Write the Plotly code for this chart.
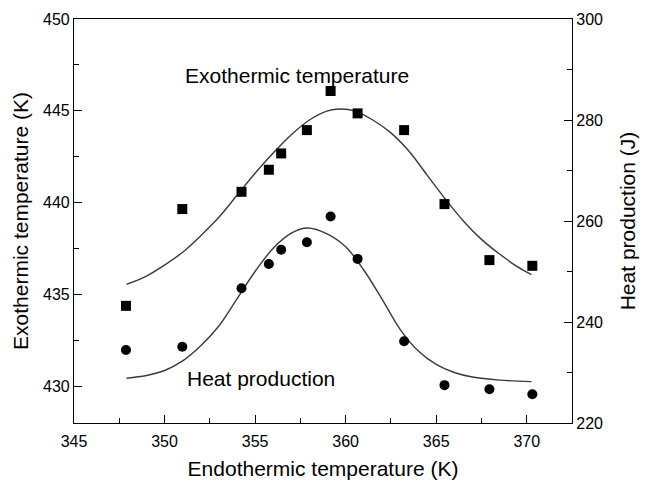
import plotly.graph_objects as go

# Measured points
endo_temp = [347.87, 350.98, 354.25, 355.76, 356.44, 357.86, 359.17, 360.66, 363.23, 365.46, 367.94, 370.31]
exo_temp = [434.38, 439.65, 440.59, 441.79, 442.68, 443.95, 446.08, 444.86, 443.95, 439.92, 436.87, 436.56]
heat_prod = [234.46, 235.1, 246.67, 251.5, 254.3, 255.8, 260.9, 252.5, 236.2, 227.5, 226.7, 225.7]

# Fitted curves
exo_fit_x = [347.9, 349.0, 350.0, 351.0, 352.0, 353.0, 354.0, 355.0, 356.0, 357.0, 358.0, 359.0, 359.7,
             360.5, 361.5, 362.5, 363.5, 364.5, 365.5, 366.5, 367.5, 368.5, 369.5, 370.26]
exo_fit_y = [435.55, 436.0, 436.6, 437.3, 438.2, 439.2, 440.4, 441.6, 442.7, 443.7, 444.5, 445.0, 445.1,
             445.0, 444.5, 443.8, 442.8, 441.5, 440.2, 439.0, 438.0, 437.2, 436.5, 436.08]
heat_fit_x = [347.9, 349.0, 350.0, 351.0, 352.0, 353.0, 354.0, 355.0, 356.0, 357.0, 357.9, 359.0, 360.0,
              361.0, 362.0, 363.0, 364.0, 365.0, 366.0, 367.0, 368.5, 370.26]
heat_fit_y = [228.85, 229.4, 230.4, 232.3, 235.3, 239.2, 244.6, 250.0, 254.6, 257.6, 258.6, 257.4, 254.9,
              250.3, 244.6, 238.6, 234.3, 231.6, 230.0, 229.1, 228.5, 228.2]

FONT = "Liberation Sans, Arial, sans-serif"

fig = go.Figure()
fig.add_trace(go.Scatter(x=exo_fit_x, y=exo_fit_y, mode="lines", line=dict(color="#3a3a3a", width=1.4, shape="spline"),
                         showlegend=False, hoverinfo="skip"))
fig.add_trace(go.Scatter(x=heat_fit_x, y=heat_fit_y, mode="lines", line=dict(color="#3a3a3a", width=1.4, shape="spline"),
                         yaxis="y2", showlegend=False, hoverinfo="skip"))
fig.add_trace(go.Scatter(x=endo_temp, y=exo_temp, mode="markers",
                         marker=dict(symbol="square", size=10, color="black"), showlegend=False))
fig.add_trace(go.Scatter(x=endo_temp, y=heat_prod, mode="markers", yaxis="y2",
                         marker=dict(symbol="circle", size=10, color="black"), showlegend=False))

axis_common = dict(showline=True, linecolor="black", linewidth=1.2, showgrid=False, zeroline=False,
                   ticks="inside", ticklen=8, tickwidth=1, tickcolor="black", automargin=False,
                   tickfont=dict(family=FONT, size=16, color="black"))

fig.update_layout(
    width=655, height=480,
    margin=dict(l=74, r=83, t=19, b=57),
    paper_bgcolor="white", plot_bgcolor="white",
    xaxis=dict(range=[345, 372.5], tickvals=[345, 350, 355, 360, 365, 370], mirror=True,
               minor=dict(ticks="inside", ticklen=5, dtick=2.5, tick0=345, tickcolor="black"),
               ticklabelstandoff=4,
               title=dict(text="Endothermic temperature (K)", font=dict(family=FONT, size=21, color="black"), standoff=12),
               **axis_common),
    yaxis=dict(range=[428, 450], tickvals=[430, 435, 440, 445, 450],
               minor=dict(ticks="inside", ticklen=5, dtick=2.5, tick0=430, tickcolor="black"),
               title=dict(text="Exothermic temperature (K)", font=dict(family=FONT, size=21, color="black"), standoff=8),
               **axis_common),
    yaxis2=dict(range=[220, 300], tickvals=[220, 240, 260, 280, 300], overlaying="y", side="right",
                minor=dict(ticks="inside", ticklen=5, dtick=10, tick0=220, tickcolor="black"),
                title=dict(text="Heat production (J)", font=dict(family=FONT, size=21, color="black"), standoff=18),
                **axis_common),
    annotations=[
        dict(x=357.33, y=446.95, xref="x", yref="y", text="Exothermic temperature", showarrow=False,
             font=dict(family=FONT, size=21, color="black"), xanchor="center", yanchor="middle"),
        dict(x=355.31, y=430.4, xref="x", yref="y", text="Heat production", showarrow=False,
             font=dict(family=FONT, size=21, color="black"), xanchor="center", yanchor="middle"),
    ],
)

fig.write_html("out.html")
